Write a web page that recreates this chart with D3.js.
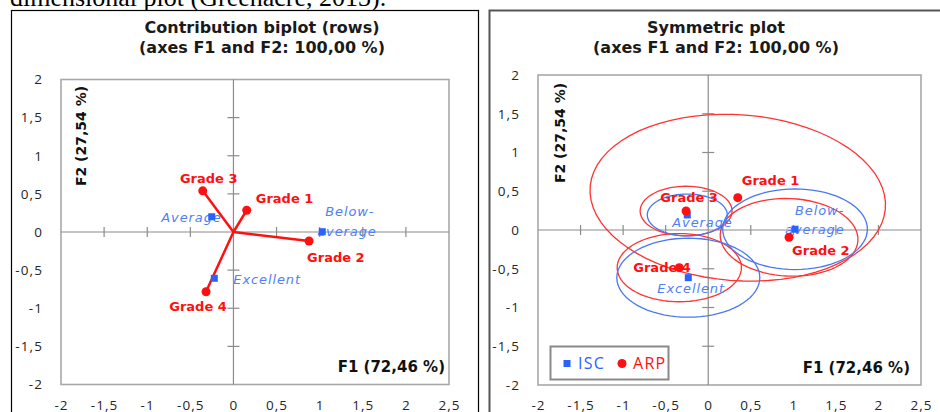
<!DOCTYPE html>
<html><head><meta charset="utf-8">
<script src="https://cdn.jsdelivr.net/npm/d3@7"></script>
<style>body{margin:0;background:#fff;} svg{display:block;}</style>
</head><body>
<svg id="c" width="940" height="412"></svg>
<script>
// ---------- data ----------
const xTicks = [-2, -1.5, -1, -0.5, 0, 0.5, 1, 1.5, 2, 2.5];
const yTicks = [-2, -1.5, -1, -0.5, 0, 0.5, 1, 1.5, 2];
const rowNames = ["Grade 1", "Grade 2", "Grade 3", "Grade 4"];          // ARP
const colNames = [["Below-", "average"], ["Average"], ["Excellent"]];   // ISC
const legendNames = ["ISC", "ARP"];
const titlesLeft = ["Contribution biplot (rows)", "(axes F1 and F2: 100,00 %)"];
const titlesRight = ["Symmetric plot", "(axes F1 and F2: 100,00 %)"];
const f1Label = "F1 (72,46 %)";
const f2Label = "F2 (27,54 %)";
// Contribution biplot (rows)
const biRowX = [0.154, 0.877, -0.356, -0.318];
const biRowY = [0.285, -0.118, 0.54, -0.783];
const biColX = [1.03, -0.252, -0.222];
const biColY = [0.004, 0.2, -0.607];
// Symmetric plot
const symRowX = [0.347, 0.95, -0.26, -0.34];
const symRowY = [0.417, -0.094, 0.245, -0.486];
const symColX = [1.02, -0.246, -0.234];
const symColY = [0.01, 0.194, -0.615];
// confidence ellipses (half-axes in F1/F2 units, tilt in degrees)
const symRowRx = [1.74, 0.81, 0.54, 0.73];
const symRowRy = [1.07, 0.50, 0.32, 0.44];
const symRowTilt = [-5, -3, 0, 0];
const symColRx = [0.85, 0.47, 0.84];
const symColRy = [0.52, 0.27, 0.51];
const symColTilt = [0, 0, 0];

// ---------- layout (pixels) ----------
const RED = "#ff1010", BLUE = "#2a62ff", BLUE_TXT = "#4f80f5";
const leftRowLab = [[9,-12,"start"],[-2,16,"start"],[6,-13,"middle"],[-8,15,"middle"]];
const leftColLab = [[[3,-20,"start"],[-5,0,"start"]],[[10,1,"end"]],[[19,1,"start"]]];
const rightRowLab = [[4,-17,"start"],[3,13,"start"],[3,-14,"middle"],[-46,0,"start"]];
const rightColLab = [[[0,-19,"start"],[-10,0,"start"]],[[-15,7,"start"]],[[-31,11,"start"]]];

const locale = d3.formatLocale({decimal: ",", thousands: ".", grouping: [3], currency: ["", ""], minus: "-"});
const fmt = locale.format("~g");

const svg = d3.select("#c");
const SANS = "'Open Sans', sans-serif";
const DJ = "'DejaVu Sans', sans-serif";

svg.append("text").attr("x", 10).attr("y", 6)
  .attr("font-family", "'Liberation Serif', 'Times New Roman', serif")
  .attr("font-size", 26).attr("fill", "#000")
  .text("dimensional plot (Greenacre, 2013).");

function panel(cfg) {
  const g = svg.append("g");
  g.append("rect").attr("x", cfg.outer[0]).attr("y", cfg.outer[1])
    .attr("width", cfg.outer[2]).attr("height", cfg.outer[3])
    .attr("fill", "#fff").attr("stroke", cfg.outerStroke).attr("stroke-width", cfg.outerSW);
  const p = cfg.plot;
  const x = d3.scaleLinear().domain([-2, 2.5]).range([p.x, p.x + p.w]);
  const y = d3.scaleLinear().domain([-2, 2]).range([p.y + p.h, p.y]);

  cfg.titles.forEach((t, i) => {
    g.append("text").attr("x", cfg.titleX).attr("y", 33 + i * 20)
      .attr("text-anchor", "middle").attr("font-family", DJ).attr("font-weight", "bold")
      .attr("font-size", 16).attr("fill", "#1a1a1a").text(t);
  });

  g.append("rect").attr("x", p.x).attr("y", p.y).attr("width", p.w).attr("height", p.h)
    .attr("fill", "none").attr("stroke", "#a8a8a8").attr("stroke-width", 1.6);

  const ya = g.append("g").attr("transform", `translate(${p.x},0)`)
    .call(d3.axisLeft(y).tickValues(yTicks).tickFormat(fmt).tickSize(0).tickPadding(18));
  const xa = g.append("g").attr("transform", `translate(0,${p.y + p.h})`)
    .call(d3.axisBottom(x).tickValues(xTicks).tickFormat(fmt).tickSize(0).tickPadding(15.5));
  [ya, xa].forEach(a => {
    a.select(".domain").remove();
    a.selectAll("text").attr("font-family", SANS).attr("font-size", 13.5)
      .attr("letter-spacing", 1.1).attr("fill", "#262626");
  });

  const ax = g.append("g").attr("stroke", "#8c8c8c").attr("stroke-width", 1.2);
  ax.append("line").attr("x1", p.x).attr("x2", p.x + p.w).attr("y1", y(0)).attr("y2", y(0));
  ax.append("line").attr("x1", x(0)).attr("x2", x(0)).attr("y1", p.y).attr("y2", p.y + p.h);
  ax.selectAll(".tx").data(xTicks.filter(v => v !== 0 && v !== -2 && v !== 2.5)).join("line")
    .attr("x1", d => x(d)).attr("x2", d => x(d)).attr("y1", y(0) - 5).attr("y2", y(0) + 5);
  ax.selectAll(".ty").data(yTicks.filter(v => v !== 0 && v !== -2 && v !== 2)).join("line")
    .attr("x1", x(0) - 6).attr("x2", x(0) + 6).attr("y1", d => y(d)).attr("y2", d => y(d));

  g.append("text").attr("x", cfg.f1[0]).attr("y", cfg.f1[1]).attr("text-anchor", "end")
    .attr("font-family", DJ).attr("font-weight", "bold").attr("font-size", 15)
    .attr("fill", "#111").text(f1Label);
  g.append("text").attr("transform", `translate(${cfg.f2[0]},${cfg.f2[1]}) rotate(-90)`)
    .attr("text-anchor", "middle").attr("font-family", DJ).attr("font-weight", "bold")
    .attr("font-size", 14).attr("fill", "#111").text(f2Label);

  return {g, x, y};
}

function drawEllipse(g, x, y, cx, cy, rx, ry, tilt, color) {
  const th = tilt * Math.PI / 180;
  const pts = d3.range(0, 72).map(k => {
    const t = k / 72 * 2 * Math.PI;
    return [cx + rx * Math.cos(t) * Math.cos(th) - ry * Math.sin(t) * Math.sin(th),
            cy + rx * Math.cos(t) * Math.sin(th) + ry * Math.sin(t) * Math.cos(th)];
  });
  g.append("path").attr("d", d3.line().x(d => x(d[0])).y(d => y(d[1])).curve(d3.curveLinearClosed)(pts))
    .attr("fill", "none").attr("stroke", color).attr("stroke-width", 1.3);
}

function labels(g, x, y, xs, ys, names, lay, bold) {
  names.forEach((nm, i) => {
    const lines = Array.isArray(nm) ? nm : [nm];
    const L = bold ? [lay[i]] : lay[i];
    lines.forEach((ln, j) => {
      const [dx, dy, anc] = L[j];
      const t = g.append("text").attr("x", x(xs[i]) + dx).attr("y", y(ys[i]) + dy + 4.7)
        .attr("text-anchor", anc).attr("font-family", DJ).attr("font-size", 13).text(ln);
      if (bold) t.attr("font-weight", "bold").attr("fill", RED);
      else t.attr("font-style", "italic").attr("letter-spacing", 0.9).attr("fill", BLUE_TXT);
    });
  });
}

function markers(g, x, y, rx, ry, cx, cy) {
  g.selectAll(null).data(cx).join("rect")
    .attr("x", (d, i) => x(cx[i]) - 3.5).attr("y", (d, i) => y(cy[i]) - 3.5)
    .attr("width", 7).attr("height", 7).attr("fill", BLUE);
  g.selectAll(null).data(rx).join("circle")
    .attr("cx", (d, i) => x(rx[i])).attr("cy", (d, i) => y(ry[i])).attr("r", 4.5).attr("fill", RED);
}

// ----- left panel -----
const L = panel({outer: [11.5, 10.5, 467, 420], outerStroke: "#000", outerSW: 1.2,
  plot: {x: 61, y: 79.5, w: 388, h: 305}, titleX: 262, titles: titlesLeft,
  f1: [445, 372], f2: [86, 136]});
L.g.selectAll(null).data(biRowX).join("line")
  .attr("x1", L.x(0)).attr("y1", L.y(0))
  .attr("x2", (d, i) => L.x(biRowX[i])).attr("y2", (d, i) => L.y(biRowY[i]))
  .attr("stroke", RED).attr("stroke-width", 2.5);
labels(L.g, L.x, L.y, biRowX, biRowY, rowNames, leftRowLab, true);
labels(L.g, L.x, L.y, biColX, biColY, colNames, leftColLab, false);
markers(L.g, L.x, L.y, biRowX, biRowY, biColX, biColY);

// ----- right panel -----
const R = panel({outer: [489.5, 10.5, 470, 420], outerStroke: "#555", outerSW: 2,
  plot: {x: 538, y: 75, w: 383, h: 310}, titleX: 716, titles: titlesRight,
  f1: [910, 373], f2: [565, 133]});
symRowX.forEach((v, i) => drawEllipse(R.g, R.x, R.y, symRowX[i], symRowY[i], symRowRx[i], symRowRy[i], symRowTilt[i], "#ff3333"));
symColX.forEach((v, i) => drawEllipse(R.g, R.x, R.y, symColX[i], symColY[i], symColRx[i], symColRy[i], symColTilt[i], "#4a78f0"));
labels(R.g, R.x, R.y, symRowX, symRowY, rowNames, rightRowLab, true);
labels(R.g, R.x, R.y, symColX, symColY, colNames, rightColLab, false);
markers(R.g, R.x, R.y, symRowX, symRowY, symColX, symColY);

// legend
const lg = R.g.append("g");
lg.append("rect").attr("x", 550.5).attr("y", 346.5).attr("width", 118).attr("height", 33)
  .attr("fill", "#fff").attr("stroke", "#8a8a8a").attr("stroke-width", 2);
lg.append("rect").attr("x", 563.5).attr("y", 360).attr("width", 7).attr("height", 7).attr("fill", BLUE);
lg.append("text").attr("x", 578).attr("y", 369).attr("font-family", SANS).attr("font-size", 16)
  .attr("letter-spacing", 1.3).attr("fill", BLUE).text(legendNames[0]);
lg.append("circle").attr("cx", 622).attr("cy", 363.5).attr("r", 4.5).attr("fill", RED);
lg.append("text").attr("x", 633).attr("y", 369).attr("font-family", SANS).attr("font-size", 16)
  .attr("letter-spacing", 1.3).attr("fill", RED).text(legendNames[1]);
</script>
</body></html>
